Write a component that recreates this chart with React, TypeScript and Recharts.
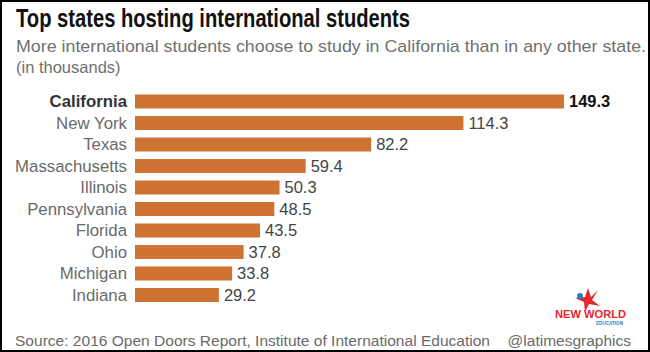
import React from 'react';
import { BarChart, Bar, XAxis, YAxis, LabelList } from 'recharts';

// International students by state, 2016 (in thousands)
const states = [
  'California',
  'New York',
  'Texas',
  'Massachusetts',
  'Illinois',
  'Pennsylvania',
  'Florida',
  'Ohio',
  'Michigan',
  'Indiana',
];
const students = [149.3, 114.3, 82.2, 59.4, 50.3, 48.5, 43.5, 37.8, 33.8, 29.2];
const xDomain = [0, 150];

const data = states.map((name, i) => ({ name, value: students[i] }));

const FONT = '"Liberation Sans", Arial, sans-serif';
const BAR_COLOR = '#cf7332';
const HIGHLIGHT = 'California';

function StateTick(props: any) {
  const { x, y, payload } = props;
  const bold = payload.value === HIGHLIGHT;
  return (
    <text
      x={x}
      y={y}
      dy="0.35em"
      textAnchor="end"
      fontFamily={FONT}
      fontSize={16.8}
      fontWeight={bold ? 700 : 400}
      fill={bold ? '#333' : '#6a6a6a'}
    >
      {payload.value}
    </text>
  );
}

function ValueLabel(props: any) {
  const { x, y, width, height, value, index } = props;
  const bold = states[index] === HIGHLIGHT;
  return (
    <text
      x={x + width + 5}
      y={y + height / 2}
      dy="0.36em"
      fontFamily={FONT}
      fontSize={16.5}
      fontWeight={bold ? 700 : 400}
      fill={bold ? '#111' : '#444'}
    >
      {value.toFixed(1)}
    </text>
  );
}

export default function App() {
  return (
    <div
      style={{
        position: 'absolute',
        left: 0,
        top: 0,
        width: 650,
        height: 352,
        background: '#fff',
        overflow: 'hidden',
      }}
    >
      <BarChart
        width={650}
        height={352}
        data={data}
        layout="vertical"
        margin={{ top: 90.5, right: 84, bottom: 46.5, left: 0 }}
      >
        <XAxis type="number" domain={xDomain} hide />
        <YAxis
          type="category"
          dataKey="name"
          width={135}
          axisLine={false}
          tickLine={false}
          tick={<StateTick />}
          interval={0}
        />
        <Bar dataKey="value" fill={BAR_COLOR} barSize={14} isAnimationActive={false}>
          <LabelList dataKey="value" content={<ValueLabel />} />
        </Bar>
      </BarChart>

      <svg
        width={650}
        height={352}
        style={{ position: 'absolute', left: 0, top: 0, pointerEvents: 'none' }}
      >
        <text
          x={16}
          y={27}
          fontFamily={FONT}
          fontSize={25}
          fontWeight={700}
          fill="#111"
          textLength={394}
          lengthAdjust="spacingAndGlyphs"
        >
          Top states hosting international students
        </text>
        <text
          x={16}
          y={52}
          fontFamily={FONT}
          fontSize={17}
          fill="#707070"
          textLength={630}
          lengthAdjust="spacingAndGlyphs"
        >
          More international students choose to study in California than in any other state.
        </text>
        <text x={16} y={73} fontFamily={FONT} fontSize={16.5} fill="#707070">
          (in thousands)
        </text>
        <text
          x={15}
          y={346}
          fontFamily={FONT}
          fontSize={15.5}
          fill="#6a6a6a"
          textLength={475}
          lengthAdjust="spacingAndGlyphs"
        >
          Source: 2016 Open Doors Report, Institute of International Education
        </text>
        <text
          x={631}
          y={346}
          textAnchor="end"
          fontFamily={FONT}
          fontSize={15.5}
          fill="#6a6a6a"
        >
          @latimesgraphics
        </text>

        {/* watermark logo */}
        <polygon
          points="598,290 592,300 600,306 589,304 585,312 584,302 575,298 585,297 588,288 591,297"
          fill="#e8262e"
        />
        <circle cx={580} cy={296} r={3} fill="#1e7fd0" />
        <text
          x={555}
          y={318}
          fontFamily={FONT}
          fontSize={10}
          fontWeight={700}
          fill="#e8262e"
          textLength={71}
          lengthAdjust="spacingAndGlyphs"
        >
          NEW WORLD
        </text>
        <text
          x={596}
          y={324.5}
          fontFamily={FONT}
          fontSize={5.5}
          fontWeight={700}
          fill="#1e7fd0"
          textLength={27}
          lengthAdjust="spacingAndGlyphs"
        >
          EDUCATION
        </text>
      </svg>

      <div
        style={{
          position: 'absolute',
          left: 0,
          top: 0,
          width: 650,
          height: 352,
          boxSizing: 'border-box',
          border: '2px solid #000',
          pointerEvents: 'none',
        }}
      />
    </div>
  );
}
